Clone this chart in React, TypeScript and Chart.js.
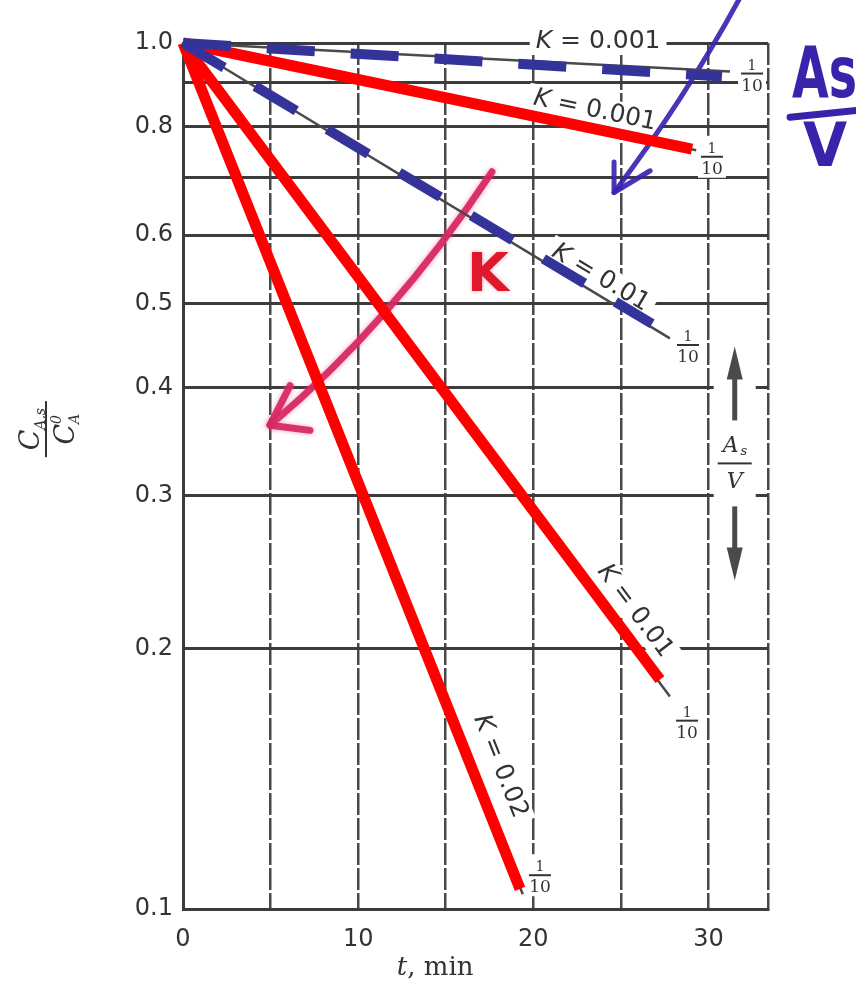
import { useEffect, useRef } from "react";
import { Chart, registerables } from "chart.js";

Chart.register(...registerables);

// Every curve starts from the same point: nothing removed at t = 0.
const startTime = 0;
const startRatio = 1.0;

// Solid red curves
const redCurveK = ["0.02", "0.01", "0.001"];
const redEndTimes = [19.24, 27.23, 29.06];
const redEndRatios = [0.1055, 0.184, 0.754];

// Dashed blue curves
const blueCurveK = ["0.01", "0.001"];
const blueEndTimes = [26.78, 30.77];
const blueEndRatios = [0.474, 0.915];

// Thin printed curves underneath (A_s/V = 1/10)
const printedEndTimes = [19.4, 27.8, 29.3, 27.8, 31.23];
const printedEndRatios = [0.104, 0.176, 0.752, 0.456, 0.927];

// "1/10" tags at the ends of the printed curves
const ratioTagTimes = [32.49, 30.2, 28.83, 28.78, 20.38];
const ratioTagRatios = [0.922, 0.739, 0.448, 0.165, 0.1094];

// Axes
const yTickValues = [0.1, 0.2, 0.3, 0.4, 0.5, 0.6, 0.7, 0.8, 0.9, 1.0];
const yTickLabels = [0.1, 0.2, 0.3, 0.4, 0.5, 0.6, 0.8, 1.0];
const xTickValues = [0, 5, 10, 15, 20, 25, 30];
const xTickLabels = [0, 10, 20, 30];
const xMin = 0;
const xMax = 33.4;
const yMin = 0.1;
const yMax = 1.0;

const INK = "#333333";
const GRID = "#3c3c3c";
const RED = "#ff0000";
const BLUE = "#333399";
const PEN_BLUE = "rgba(58,36,176,0.92)";
const PEN_RED = "rgba(214,38,98,0.92)";

// K labels laid along their curves: fraction of the way along, and distance off the line
const kLabelSeries: [string, number][] = [
  ["red", 0],
  ["red", 1],
  ["red", 2],
  ["blue", 0],
];
const kLabelAlong = [0.867, 0.912, 0.802, 0.876];
const kLabelOffset = [27, 21, 18, 13];
// the horizontal K label over the top dashed curve
const topLabelTime = 23.7;
const topLabelRatio = 1.0;

// Hand-written notes, in data units (t, C)
const blueArrowPath = [
  [31.8, 1.128],
  [28.66, 0.862],
  [24.61, 0.672],
];
const blueArrowBarbs = [
  [24.61, 0.729],
  [26.67, 0.712],
];
const redArrowPath = [
  [17.64, 0.71],
  [11.99, 0.477],
  [4.97, 0.362],
];
const redArrowBarbs = [
  [6.11, 0.402],
  [7.25, 0.357],
];
const penKAt = [17.41, 0.537];
const penAsAt = [34.77, 0.866];
const penBarFrom = [34.66, 0.821];
const penBarTo = [38.43, 0.836];
const penVAt = [35.4, 0.722];
const areaKeyAt = [31.5, 0.327];
const yTitleAt = [0, 0.362];
const xTitleAt = [14.4, 0.1];

function segment(t1: number, c1: number) {
  return [
    { x: startTime, y: startRatio },
    { x: t1, y: c1 },
  ];
}

function drawKLabel(ctx: CanvasRenderingContext2D, k: string, cx: number, cy: number, angle: number) {
  ctx.save();
  ctx.translate(cx, cy);
  ctx.rotate(angle);
  const italic = 'oblique 25px "DejaVu Sans"';
  const upright = '25px "DejaVu Sans"';
  ctx.font = italic;
  const wK = ctx.measureText("K").width;
  const rest = " = " + k;
  ctx.font = upright;
  const wR = ctx.measureText(rest).width;
  const w = wK + wR;
  ctx.fillStyle = "#ffffff";
  ctx.fillRect(-w / 2 - 6, -14, w + 12, 28);
  ctx.fillStyle = INK;
  ctx.textAlign = "left";
  ctx.textBaseline = "middle";
  ctx.font = italic;
  ctx.fillText("K", -w / 2, 0);
  ctx.font = upright;
  ctx.fillText(rest, -w / 2 + wK, 0);
  ctx.restore();
}

function drawRatioTag(ctx: CanvasRenderingContext2D, cx: number, cy: number) {
  ctx.save();
  ctx.fillStyle = "#ffffff";
  ctx.fillRect(cx - 14, cy - 21, 28, 42);
  ctx.fillStyle = INK;
  ctx.textAlign = "center";
  ctx.textBaseline = "alphabetic";
  ctx.font = '14px "DejaVu Serif"';
  ctx.fillText("1", cx, cy - 4);
  ctx.fillRect(cx - 11, cy - 1, 22, 2);
  ctx.font = '17px "DejaVu Serif"';
  ctx.fillText("10", cx, cy + 17);
  ctx.restore();
}

function drawAreaKey(ctx: CanvasRenderingContext2D, cx: number, cy: number) {
  ctx.save();
  ctx.fillStyle = "#ffffff";
  ctx.fillRect(cx - 21, cy - 128, 42, 256);
  ctx.fillStyle = "#4a4a4a";
  ctx.fillRect(cx - 2.5, cy - 88, 5, 45);
  ctx.beginPath();
  ctx.moveTo(cx, cy - 117);
  ctx.lineTo(cx + 8, cy - 84);
  ctx.lineTo(cx - 8, cy - 84);
  ctx.closePath();
  ctx.fill();
  ctx.fillRect(cx - 2.5, cy + 43, 5, 45);
  ctx.beginPath();
  ctx.moveTo(cx, cy + 117);
  ctx.lineTo(cx + 8, cy + 84);
  ctx.lineTo(cx - 8, cy + 84);
  ctx.closePath();
  ctx.fill();
  ctx.fillStyle = INK;
  ctx.textAlign = "center";
  ctx.textBaseline = "alphabetic";
  ctx.font = 'italic 22px "DejaVu Serif"';
  ctx.fillText("A", cx - 4, cy - 11);
  ctx.font = 'italic 13px "DejaVu Serif"';
  ctx.fillText("s", cx + 9, cy - 8);
  ctx.fillRect(cx - 17, cy - 1, 34, 2);
  ctx.font = 'italic 22px "DejaVu Serif"';
  ctx.fillText("V", cx, cy + 25);
  ctx.restore();
}

function drawYTitle(ctx: CanvasRenderingContext2D, cx: number, cy: number) {
  ctx.save();
  ctx.translate(cx, cy);
  ctx.rotate(-Math.PI / 2);
  ctx.fillStyle = INK;
  ctx.textAlign = "left";
  ctx.textBaseline = "alphabetic";
  const big = 'italic 27px "DejaVu Serif"';
  const small = 'italic 14px "DejaVu Serif"';
  ctx.font = big;
  const wC = ctx.measureText("C").width;
  ctx.font = small;
  const wSub = ctx.measureText("A,s").width;
  const wA = ctx.measureText("A").width;
  let x0 = -(wC + wSub) / 2;
  ctx.font = big;
  ctx.fillText("C", x0, -7);
  ctx.font = small;
  ctx.fillText("A,s", x0 + wC, -1);
  ctx.fillRect(-28, -1, 56, 2);
  x0 = -(wC + wA) / 2;
  ctx.font = big;
  ctx.fillText("C", x0, 28);
  ctx.font = small;
  ctx.fillText("0", x0 + wC, 15);
  ctx.fillText("A", x0 + wC, 33);
  ctx.restore();
}

function drawXTitle(ctx: CanvasRenderingContext2D, cx: number, cy: number) {
  ctx.save();
  ctx.fillStyle = INK;
  ctx.textBaseline = "middle";
  ctx.textAlign = "left";
  const it = 'italic 26px "DejaVu Serif"';
  const up = '26px "DejaVu Serif"';
  ctx.font = it;
  const w1 = ctx.measureText("t").width;
  ctx.font = up;
  const w2 = ctx.measureText(", min").width;
  const x0 = cx - (w1 + w2) / 2;
  ctx.font = it;
  ctx.fillText("t", x0, cy);
  ctx.font = up;
  ctx.fillText(", min", x0 + w1, cy);
  ctx.restore();
}

function penStroke(
  ctx: CanvasRenderingContext2D,
  pts: number[][],
  barbs: number[][],
  color: string,
  width: number,
  glow: string | null
) {
  ctx.save();
  ctx.strokeStyle = color;
  ctx.lineWidth = width;
  ctx.lineCap = "round";
  ctx.lineJoin = "round";
  if (glow) {
    ctx.shadowColor = glow;
    ctx.shadowBlur = 5;
  }
  ctx.beginPath();
  ctx.moveTo(pts[0][0], pts[0][1]);
  ctx.quadraticCurveTo(pts[1][0], pts[1][1], pts[2][0], pts[2][1]);
  ctx.stroke();
  ctx.beginPath();
  ctx.moveTo(barbs[0][0], barbs[0][1]);
  ctx.lineTo(pts[2][0], pts[2][1]);
  ctx.lineTo(barbs[1][0], barbs[1][1]);
  ctx.stroke();
  ctx.restore();
}

const notesPlugin = {
  id: "notes",
  beforeDraw(chart: any) {
    const { ctx, width, height } = chart;
    ctx.save();
    ctx.fillStyle = "#ffffff";
    ctx.fillRect(0, 0, width, height);
    ctx.restore();
  },
  beforeDatasetsDraw(chart: any) {
    const { ctx } = chart;
    const xs = chart.scales.x;
    const ys = chart.scales.y;
    const P = (p: number[]) => [xs.getPixelForValue(p[0]), ys.getPixelForValue(p[1])];

    // labels along the curves
    kLabelSeries.forEach(([kind, i], n) => {
      const t1 = kind === "red" ? redEndTimes[i] : blueEndTimes[i];
      const c1 = kind === "red" ? redEndRatios[i] : blueEndRatios[i];
      const k = kind === "red" ? redCurveK[i] : blueCurveK[i];
      const [ax, ay] = P([startTime, startRatio]);
      const [bx, by] = P([t1, c1]);
      const a = Math.atan2(by - ay, bx - ax);
      const f = kLabelAlong[n];
      const d = kLabelOffset[n];
      const cx = ax + (bx - ax) * f + d * Math.sin(a);
      const cy = ay + (by - ay) * f - d * Math.cos(a);
      drawKLabel(ctx, k, cx, cy, a);
    });
    const [tx, ty] = P([topLabelTime, topLabelRatio]);
    drawKLabel(ctx, blueCurveK[1], tx, ty - 2, 0);

    ratioTagTimes.forEach((t, i) => {
      const [cx, cy] = P([t, ratioTagRatios[i]]);
      drawRatioTag(ctx, cx, cy);
    });

    const [kx, ky] = P(areaKeyAt);
    drawAreaKey(ctx, kx, ky);

    // pen notes
    penStroke(ctx, blueArrowPath.map(P), blueArrowBarbs.map(P), PEN_BLUE, 5, null);
    penStroke(ctx, redArrowPath.map(P), redArrowBarbs.map(P), PEN_RED, 7, "rgba(235,80,140,0.6)");

    const [pkx, pky] = P(penKAt);
    ctx.save();
    ctx.fillStyle = "#e0182c";
    ctx.shadowColor = "rgba(235,80,120,0.5)";
    ctx.shadowBlur = 4;
    ctx.font = 'bold 54px "DejaVu Sans"';
    ctx.textAlign = "center";
    ctx.textBaseline = "middle";
    ctx.fillText("K", pkx, pky);
    ctx.restore();
  },
  afterDraw(chart: any) {
    const { ctx, chartArea } = chart;
    const xs = chart.scales.x;
    const ys = chart.scales.y;
    const P = (p: number[]) => [xs.getPixelForValue(p[0]), ys.getPixelForValue(p[1])];

    const [, yy] = P(yTitleAt);
    drawYTitle(ctx, chartArea.left - 137, yy + 4);
    const [xx] = P(xTitleAt);
    drawXTitle(ctx, xx, chartArea.bottom + 59);

    // hand-written "As / V" beside the chart
    const [asx, asy] = P(penAsAt);
    const [b1x, b1y] = P(penBarFrom);
    const [b2x, b2y] = P(penBarTo);
    const [vx, vy] = P(penVAt);
    ctx.save();
    ctx.fillStyle = "#3a22aa";
    ctx.strokeStyle = "#3a22aa";
    ctx.textAlign = "left";
    ctx.textBaseline = "alphabetic";
    ctx.save();
    ctx.translate(asx, asy);
    ctx.scale(0.66, 1);
    ctx.font = 'bold 72px "DejaVu Sans"';
    ctx.fillText("As", 0, 0);
    ctx.restore();
    ctx.lineWidth = 7;
    ctx.lineCap = "round";
    ctx.beginPath();
    ctx.moveTo(b1x, b1y);
    ctx.lineTo(b2x, b2y);
    ctx.stroke();
    ctx.save();
    ctx.translate(vx, vy);
    ctx.scale(0.95, 1);
    ctx.font = 'bold 60px "DejaVu Sans"';
    ctx.fillText("V", 0, 0);
    ctx.restore();
    ctx.restore();
  },
};

export default function App() {
  const ref = useRef<HTMLCanvasElement>(null);

  useEffect(() => {
    const canvas = ref.current;
    if (!canvas) return;

    const datasets: any[] = [
      ...blueCurveK.map((k, i) => ({
        label: `K = ${k} (dashed)`,
        data: segment(blueEndTimes[i], blueEndRatios[i]),
        borderColor: BLUE,
        borderWidth: 10,
        borderDash: [48, 36],
        borderCapStyle: "butt",
        pointRadius: 0,
        order: 0,
        clip: false,
      })),
      ...redCurveK.map((k, i) => ({
        label: `K = ${k}`,
        data: segment(redEndTimes[i], redEndRatios[i]),
        borderColor: RED,
        borderWidth: 11,
        borderCapStyle: "butt",
        pointRadius: 0,
        order: 1,
        clip: false,
      })),
      ...printedEndTimes.map((t, i) => ({
        label: `printed ${i}`,
        data: segment(t, printedEndRatios[i]),
        borderColor: "#4a4a4a",
        borderWidth: 2.5,
        pointRadius: 0,
        order: 2,
        clip: false,
      })),
    ];

    const tickFont = { family: '"DejaVu Sans"', size: 24 };

    const chart = new Chart(canvas, {
      type: "line",
      data: { datasets },
      plugins: [notesPlugin],
      options: {
        animation: false,
        responsive: false,
        maintainAspectRatio: false,
        devicePixelRatio: 1,
        parsing: false,
        layout: { padding: { top: 43, right: 88, left: 0, bottom: 0 } },
        plugins: {
          legend: { display: false },
          tooltip: { enabled: false },
        },
        scales: {
          x: {
            type: "linear",
            min: xMin,
            max: xMax,
            afterBuildTicks: (s: any) => {
              s.ticks = [...xTickValues, xMax].map((v) => ({ value: v }));
            },
            afterFit: (s: any) => {
              s.height = 75;
            },
            grid: { color: "#484848", lineWidth: 2.5, drawTicks: false },
            border: { display: true, color: GRID, width: 3, dash: [22, 3] },
            ticks: {
              autoSkip: false,
              maxRotation: 0,
              padding: 16,
              color: INK,
              font: tickFont,
              callback: (v: any) => (xTickLabels.includes(Number(v)) ? String(v) : ""),
            },
          },
          y: {
            type: "logarithmic",
            min: yMin,
            max: yMax,
            afterBuildTicks: (s: any) => {
              s.ticks = yTickValues.map((v) => ({ value: v }));
            },
            afterFit: (s: any) => {
              s.width = 183;
            },
            grid: { color: GRID, lineWidth: 3, drawTicks: false },
            border: { display: true, color: GRID, width: 3 },
            ticks: {
              autoSkip: false,
              padding: 10,
              color: INK,
              font: tickFont,
              callback: (v: any) =>
                yTickLabels.some((l) => Math.abs(l - Number(v)) < 1e-9) ? Number(v).toFixed(1) : "",
            },
          },
        },
      } as any,
    });

    return () => chart.destroy();
  }, []);

  return (
    <div style={{ position: "fixed", left: 0, top: 0, width: 856, height: 984, background: "#fff" }}>
      <canvas ref={ref} width={856} height={984} style={{ display: "block", width: 856, height: 984 }} />
    </div>
  );
}
